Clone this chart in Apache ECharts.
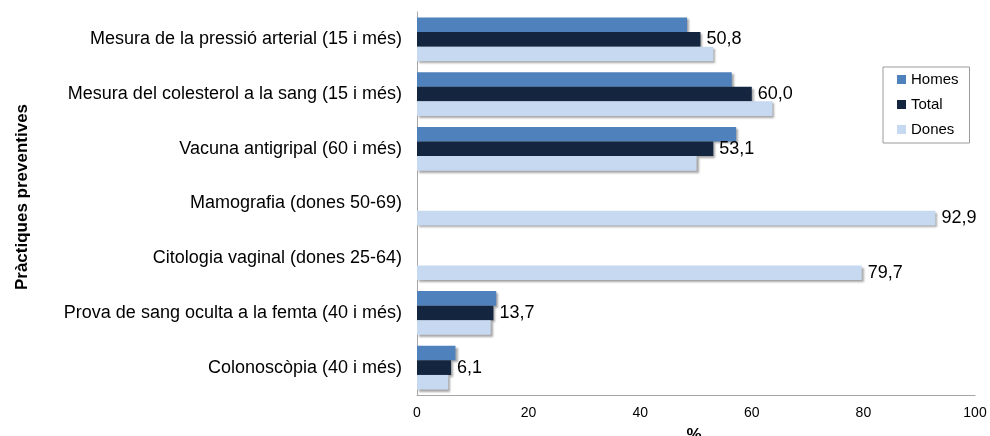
<!DOCTYPE html>
<html>
<head>
<meta charset="utf-8">
<script src="https://cdn.jsdelivr.net/npm/echarts@6/dist/echarts.min.js"></script>
<style>
  html, body { margin: 0; padding: 0; background: #fff; }
  #chart { width: 990px; height: 436px; }
</style>
</head>
<body>
<div id="chart"></div>
<script>
// Preventive practices by sex (%), top-to-bottom order
const categories = [
  'Mesura de la pressió arterial (15 i més)',
  'Mesura del colesterol a la sang (15 i més)',
  'Vacuna antigripal (60 i més)',
  'Mamografia (dones 50-69)',
  'Citologia vaginal (dones 25-64)',
  'Prova de sang oculta a la femta (40 i més)',
  'Colonoscòpia (40 i més)'
];
const homes = [48.4, 56.4, 57.2, null, null, 14.2, 6.9];
const total = [50.8, 60.0, 53.1, null, null, 13.7, 6.1];
const dones = [53.1, 63.7, 50.1, 92.9, 79.7, 13.2, 5.6];
const xTicks = [0, 20, 40, 60, 80, 100];

const FONT = '"Liberation Sans", Arial, sans-serif';
const fmt = v => v.toFixed(1).replace('.', ',');

const shadow = {
  shadowColor: 'rgba(0,0,0,0.35)',
  shadowOffsetX: 2,
  shadowOffsetY: 2,
  shadowBlur: 2
};

const valueLabel = {
  show: true,
  position: 'right',
  distance: 6,
  color: '#000',
  fontFamily: FONT,
  fontSize: 18
};

const chart = echarts.init(document.getElementById('chart'), null, { renderer: 'canvas' });

chart.setOption({
  animation: false,
  backgroundColor: '#fff',
  textStyle: { fontFamily: FONT },
  grid: { left: 417, right: 15, top: 12, bottom: 41, containLabel: false },
  legend: {
    orient: 'vertical',
    left: 883,
    top: 67,
    data: ['Homes', 'Total', 'Dones'],
    icon: 'rect',
    itemWidth: 9,
    itemHeight: 9,
    itemGap: 10,
    padding: [5, 11, 6, 14],
    borderColor: '#9a9a9a',
    borderWidth: 1,
    textStyle: { fontFamily: FONT, fontSize: 15, color: '#000', lineHeight: 14 }
  },
  xAxis: {
    type: 'value',
    min: xTicks[0],
    max: xTicks[xTicks.length - 1],
    interval: xTicks[1] - xTicks[0],
    axisLine: { show: true, lineStyle: { color: '#a6a6a6', width: 1 } },
    axisTick: { show: false },
    splitLine: { show: false },
    axisLabel: { color: '#000', fontFamily: FONT, fontSize: 14, margin: 11 }
  },
  yAxis: {
    type: 'category',
    inverse: true,
    data: categories,
    axisLine: { show: true, lineStyle: { color: '#a6a6a6', width: 1 } },
    axisTick: { show: false },
    axisLabel: { color: '#000', fontFamily: FONT, fontSize: 18, margin: 15 }
  },
  graphic: [
    {
      type: 'text',
      x: 22,
      y: 197,
      rotation: Math.PI / 2,
      style: {
        text: 'Pràctiques preventives',
        fontFamily: FONT,
        fontSize: 17,
        fontWeight: 'bold',
        fill: '#000',
        align: 'center',
        verticalAlign: 'middle'
      }
    },
    {
      type: 'text',
      x: 694,
      y: 427,
      style: {
        text: '%',
        fontFamily: FONT,
        fontSize: 17,
        fontWeight: 'bold',
        fill: '#000',
        align: 'center',
        verticalAlign: 'top'
      }
    }
  ],
  series: [
    {
      name: 'Homes',
      type: 'bar',
      data: homes,
      barGap: '0%',
      barCategoryGap: '20%',
      itemStyle: Object.assign({ color: '#4f81bd' }, shadow)
    },
    {
      name: 'Total',
      type: 'bar',
      data: total,
      barGap: '0%',
      barCategoryGap: '20%',
      itemStyle: Object.assign({ color: '#13253f' }, shadow),
      label: Object.assign({}, valueLabel, { formatter: p => fmt(p.value) })
    },
    {
      name: 'Dones',
      type: 'bar',
      data: dones,
      barGap: '0%',
      barCategoryGap: '20%',
      itemStyle: Object.assign({ color: '#c6d9f0' }, shadow),
      // value shown on this bar only where no total is given
      label: Object.assign({}, valueLabel, {
        formatter: p => (total[p.dataIndex] == null ? fmt(p.value) : '')
      })
    }
  ]
});
</script>
</body>
</html>
